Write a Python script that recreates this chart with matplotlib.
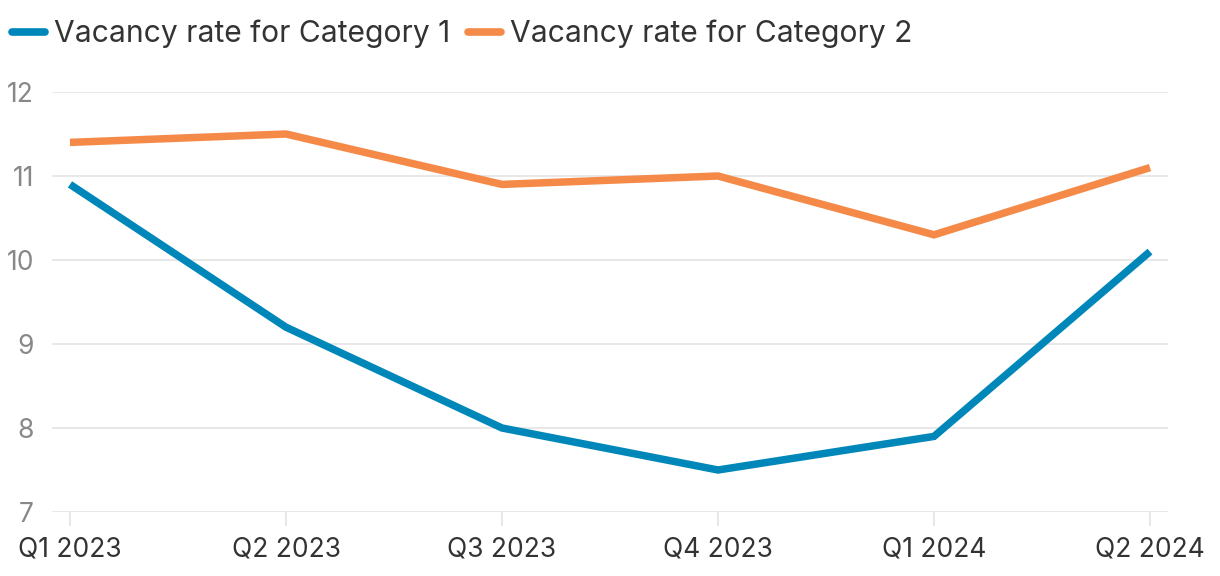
import matplotlib
matplotlib.use('Agg')
import matplotlib.pyplot as plt

quarters = ['Q1 2023', 'Q2 2023', 'Q3 2023', 'Q4 2023', 'Q1 2024', 'Q2 2024']
cat1 = [10.9, 9.2, 8.0, 7.5, 7.9, 10.1]
cat2 = [11.4, 11.5, 10.9, 11.0, 10.3, 11.1]

plt.rcParams['font.family'] = ['Inter', 'DejaVu Sans']

fig = plt.figure(figsize=(12.2, 5.76), dpi=100)
ax = fig.add_axes([52/1220, 64/576, 1116/1220, 420/576])

x = list(range(len(quarters)))
ax.plot(x, cat1, color='#0087b9', lw=5.4, solid_capstyle='butt', solid_joinstyle='miter',
        label='Vacancy rate for Category 1')
ax.plot(x, cat2, color='#f58a48', lw=5.4, solid_capstyle='butt', solid_joinstyle='miter',
        label='Vacancy rate for Category 2')

ax.set_ylim(7, 12)
ax.set_xlim(-18/216, 5 + 18/216)
ax.set_yticks(range(7, 13))
ax.set_xticks(x)
ax.set_xticklabels(quarters, fontsize=19, color='#333333')
ax.tick_params(axis='y', length=0, pad=13, labelsize=19, labelcolor='#888888')
ax.tick_params(axis='x', length=10, width=1.2, color='#e3e3e3', pad=8)
ax.grid(axis='y', color='#e6e6e6', lw=1.3)
ax.set_axisbelow(True)
for s in ax.spines.values():
    s.set_visible(False)

leg = ax.legend(loc='center left', bbox_to_anchor=(-40/1116, 1 + 58/420), ncol=2, frameon=False,
                fontsize=21.6, handlelength=1.1, handletextpad=0.3, columnspacing=0.6,
                borderaxespad=0, borderpad=0, labelcolor='#333333')
for h in leg.get_lines():
    h.set_solid_capstyle('round')
    h.set_linewidth(5.5)

fig.savefig('out.png', dpi=100)
